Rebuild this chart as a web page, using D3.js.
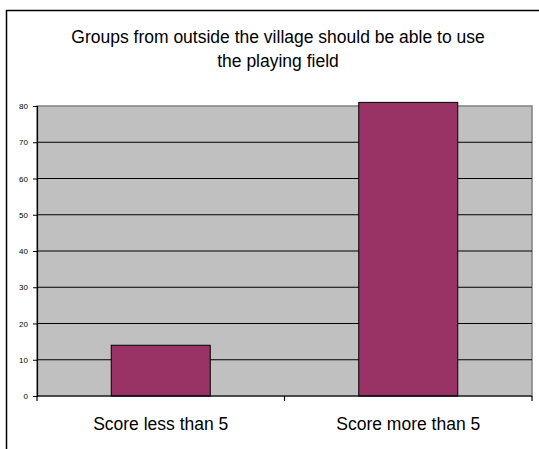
<!DOCTYPE html>
<html>
<head>
<meta charset="utf-8">
<script src="https://cdn.jsdelivr.net/npm/d3@7"></script>
<style>
  body { margin: 0; background: #fff; }
  text { font-family: "Liberation Sans", Arial, sans-serif; fill: #000; }
</style>
</head>
<body>
<div id="chart"></div>
<script>
// Data
var categories = ["Score less than 5", "Score more than 5"];
var values = [14, 81];
var yTicks = [0, 10, 20, 30, 40, 50, 60, 70, 80];
var titleLines = ["Groups from outside the village should be able to use", "the playing field"];

var svgWidth = 539;
var svgHeight = 449;

var margin = { top: 106, right: 7, bottom: 53, left: 37 };
var width = svgWidth - margin.left - margin.right;
var height = svgHeight - margin.top - margin.bottom;

var svg = d3.select("#chart")
  .append("svg")
  .attr("width", svgWidth)
  .attr("height", svgHeight);

// outer frame (runs off the right and bottom edges)
svg.append("rect")
  .attr("x", 6.5)
  .attr("y", 10.5)
  .attr("width", 560)
  .attr("height", 460)
  .attr("fill", "#fff")
  .attr("stroke", "#000")
  .attr("stroke-width", 1.5);

// title
svg.append("text")
  .attr("text-anchor", "middle")
  .style("font-size", "17.5px")
  .selectAll("tspan")
  .data(titleLines)
  .enter()
  .append("tspan")
  .attr("x", 278)
  .attr("y", (d, i) => 43 + i * 24)
  .text(d => d);

var chartGroup = svg.append("g")
  .attr("transform", `translate(${margin.left}, ${margin.top})`);

// scales
var xBandScale = d3.scaleBand()
  .domain(categories)
  .range([0, width])
  .padding(0);

var yLinearScale = d3.scaleLinear()
  .domain([0, 80])
  .range([height, 0]);

// plot background
chartGroup.append("rect")
  .attr("x", 0)
  .attr("y", 0)
  .attr("width", width)
  .attr("height", height)
  .attr("fill", "#c0c0c0")
  .attr("stroke", "#808080")
  .attr("stroke-width", 1.5);

// gridlines
chartGroup.selectAll(".grid")
  .data(yTicks.filter(d => d > 0 && d < 80))
  .enter()
  .append("line")
  .attr("x1", 0)
  .attr("x2", width)
  .attr("y1", d => yLinearScale(d))
  .attr("y2", d => yLinearScale(d))
  .attr("stroke", "#000")
  .attr("stroke-width", 1.2);

// bars
var barFrac = 0.4;
chartGroup.selectAll(".bar")
  .data(values)
  .enter()
  .append("rect")
  .attr("x", (d, i) => xBandScale(categories[i]) + xBandScale.bandwidth() * (1 - barFrac) / 2)
  .attr("y", d => yLinearScale(d))
  .attr("width", xBandScale.bandwidth() * barFrac)
  .attr("height", d => height - yLinearScale(d))
  .attr("fill", "#993366")
  .attr("stroke", "#000")
  .attr("stroke-width", 1);

// y axis
var leftAxis = d3.axisLeft(yLinearScale)
  .tickValues(yTicks)
  .tickSize(4)
  .tickPadding(5);

var yAxisG = chartGroup.append("g").call(leftAxis);
yAxisG.select(".domain").attr("stroke", "#000").attr("stroke-width", 1.2);
yAxisG.selectAll(".tick line").attr("stroke", "#000");
yAxisG.selectAll(".tick text")
  .style("font-size", "8px")
  .style("font-family", "Liberation Sans, Arial, sans-serif")
  .attr("fill", "#000");

// x axis: ticks at category boundaries
var xAxisG = chartGroup.append("g")
  .attr("transform", `translate(0, ${height})`);

xAxisG.append("line")
  .attr("x1", 0)
  .attr("x2", width)
  .attr("stroke", "#000")
  .attr("stroke-width", 1.2);

var boundaries = categories.map(c => xBandScale(c)).concat([width]);
xAxisG.selectAll(".xtick")
  .data(boundaries)
  .enter()
  .append("line")
  .attr("x1", d => d)
  .attr("x2", d => d)
  .attr("y1", 0)
  .attr("y2", 5)
  .attr("stroke", "#000")
  .attr("stroke-width", 1.2);

xAxisG.selectAll(".xlabel")
  .data(categories)
  .enter()
  .append("text")
  .attr("x", d => xBandScale(d) + xBandScale.bandwidth() / 2)
  .attr("y", 34)
  .attr("text-anchor", "middle")
  .style("font-size", "17.5px")
  .text(d => d);
</script>
</body>
</html>
